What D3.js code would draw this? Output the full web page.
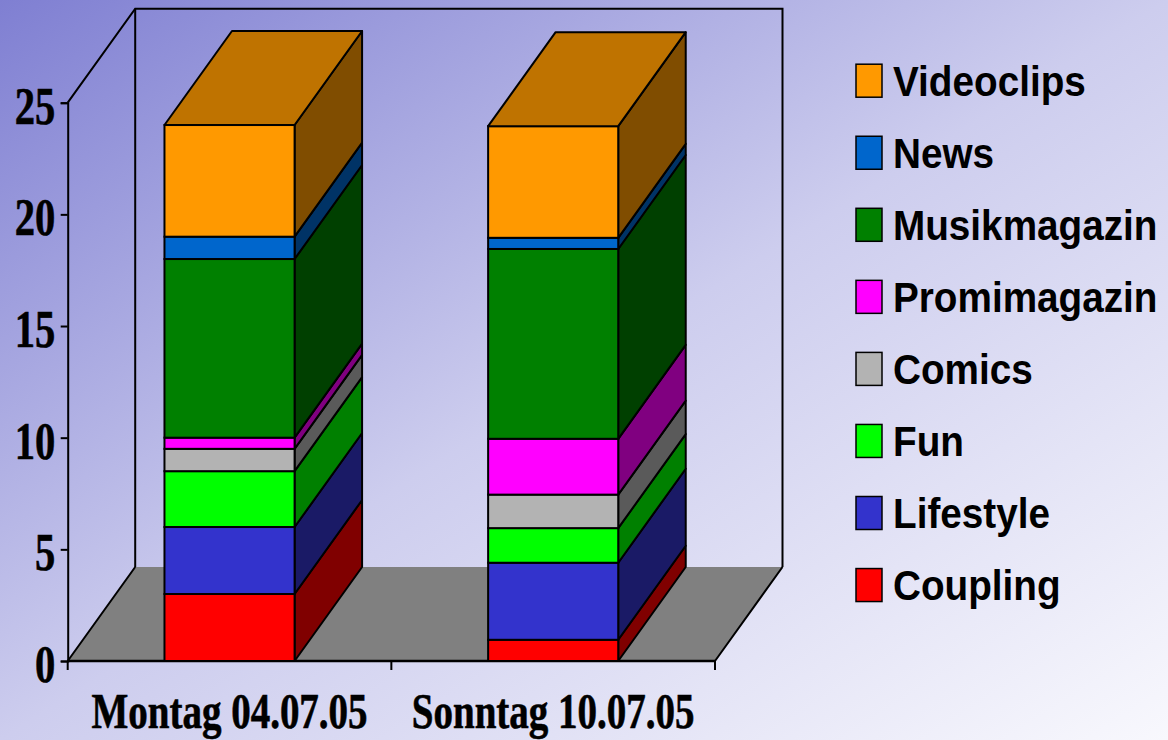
<!DOCTYPE html>
<html><head><meta charset="utf-8">
<script src="https://cdn.jsdelivr.net/npm/d3@7"></script>
<style>html,body{margin:0;padding:0;overflow:hidden}svg{display:block}</style>
</head><body>
<svg id="chart" width="1168" height="740"></svg>
<script>
// ---- data ----
const categories = ["Montag 04.07.05", "Sonntag 10.07.05"];
const seriesNames = ["Coupling", "Lifestyle", "Fun", "Comics", "Promimagazin", "Musikmagazin", "News", "Videoclips"];
const coupling     = [3.0, 0.95];
const lifestyle    = [3.0, 3.45];
const fun          = [2.5, 1.55];
const comics       = [1.0, 1.5];
const promimagazin = [0.5, 2.5];
const musikmagazin = [8.0, 8.5];
const news         = [1.0, 0.5];
const videoclips   = [5.0, 5.0];
const yTicks = [0, 5, 10, 15, 20, 25];
const frontColors = ["#FF0000", "#3333CC", "#00FF00", "#B3B3B3", "#FF00FF", "#008000", "#0066CC", "#FF9900"];
const sideColors  = ["#800000", "#1A1A66", "#008000", "#5A5A5A", "#800080", "#004000", "#003366", "#804D00"];
const topColors   = ["#BF0000", "#262699", "#00BF00", "#868686", "#BF00BF", "#006000", "#004C99", "#BF7300"];

const seriesValues = [coupling, lifestyle, fun, comics, promimagazin, musikmagazin, news, videoclips];

const svg = d3.select("#chart");
const W = 1168, H = 740;

// background gradient
const defs = svg.append("defs");
const grad = defs.append("linearGradient").attr("id", "bg")
  .attr("x1", 0).attr("y1", 0).attr("x2", 1).attr("y2", 1);
grad.append("stop").attr("offset", 0).attr("stop-color", "#7f7fd2");
grad.append("stop").attr("offset", 0.5).attr("stop-color", "#cdcdee");
grad.append("stop").attr("offset", 1).attr("stop-color", "#f8f8fd");
svg.append("rect").attr("width", W).attr("height", H).attr("fill", "url(#bg)");

// geometry
const x0 = 67.7, x1 = 715;
const dx = 67.5, dy = -94;
const y = d3.scaleLinear().domain([0, 25]).range([661, 102.7]);
const x = d3.scaleBand().domain(categories).range([x0, x1]).paddingInner(0.598).paddingOuter(0.299);
const SW = 2;

const g = svg.append("g");

// floor
g.append("path")
  .attr("d", `M${x0},${y(0)} L${x0 + dx},${y(0) + dy} L${x1 + dx},${y(0) + dy} L${x1},${y(0)} Z`)
  .attr("fill", "#808080").attr("stroke", "none");
g.append("path")
  .attr("d", `M${x0},${y(0)} L${x0 + dx},${y(0) + dy} M${x1},${y(0)} L${x1 + dx},${y(0) + dy}`)
  .attr("stroke", "#000").attr("stroke-width", SW).attr("fill", "none");

// walls (outline)
g.append("path")
  .attr("d", `M${x0},${y(25)} L${x0 + dx},${y(25) + dy} L${x1 + dx},${y(25) + dy} L${x1 + dx},${y(0) + dy}`)
  .attr("stroke", "#000").attr("stroke-width", SW).attr("fill", "none");
g.append("line")
  .attr("x1", x0 + dx).attr("y1", y(25) + dy).attr("x2", x0 + dx).attr("y2", y(0) + dy)
  .attr("stroke", "#000").attr("stroke-width", SW);

// y axis
const yAxis = d3.axisLeft(y).tickValues(yTicks).tickSize(7).tickPadding(0).tickFormat(d3.format("d"));
const ya = g.append("g").attr("transform", `translate(${x0},0)`).call(yAxis);
ya.select(".domain").attr("stroke", "#000").attr("stroke-width", 2);
ya.selectAll(".tick line").attr("stroke", "#000").attr("stroke-width", SW);
ya.selectAll(".tick text")
  .attr("x", null).attr("dy", null)
  .attr("transform", "translate(-12.5,20.5) scale(0.78,1)")
  .attr("text-anchor", "end")
  .attr("fill", "#000")
  .attr("stroke", "#000").attr("stroke-width", 0.6)
  .style("font-family", "'Liberation Serif','Times New Roman',serif")
  .style("font-weight", "bold")
  .style("font-size", "52px");

// x axis baseline + ticks at band boundaries
g.append("line").attr("x1", x0).attr("x2", x1).attr("y1", y(0)).attr("y2", y(0))
  .attr("stroke", "#000").attr("stroke-width", 2.5);
const boundaries = d3.range(categories.length + 1).map(i => x0 + i * x.step());
g.selectAll(".xtick").data(boundaries).enter().append("line")
  .attr("x1", d => d).attr("x2", d => d).attr("y1", y(0)).attr("y2", y(0) + 9)
  .attr("stroke", "#000").attr("stroke-width", SW);

// bars
categories.forEach((cat, ci) => {
  const bx0 = x(cat), bx1 = x(cat) + x.bandwidth();
  let cum = 0;
  const bg = g.append("g");
  seriesValues.forEach((vals, si) => {
    const v = vals[ci];
    const yb = y(cum), yt = y(cum + v);
    cum += v;
    bg.append("path")
      .attr("d", `M${bx1},${yb} L${bx1 + dx},${yb + dy} L${bx1 + dx},${yt + dy} L${bx1},${yt} Z`)
      .attr("fill", sideColors[si]).attr("stroke", "#000").attr("stroke-width", SW).attr("stroke-linejoin", "round");
    bg.append("rect")
      .attr("x", bx0).attr("y", yt).attr("width", bx1 - bx0).attr("height", yb - yt)
      .attr("fill", frontColors[si]).attr("stroke", "#000").attr("stroke-width", SW);
    if (si === seriesValues.length - 1) {
      bg.append("path")
        .attr("d", `M${bx0},${yt} L${bx0 + dx},${yt + dy} L${bx1 + dx},${yt + dy} L${bx1},${yt} Z`)
        .attr("fill", topColors[si]).attr("stroke", "#000").attr("stroke-width", SW).attr("stroke-linejoin", "round");
    }
  });
});

// category labels
g.selectAll(".xlabel").data(categories).enter().append("text")
  .attr("transform", d => `translate(${x(d) + x.bandwidth() / 2},728) scale(0.78,1)`)
  .attr("text-anchor", "middle")
  .attr("fill", "#000")
  .attr("stroke", "#000").attr("stroke-width", 0.6)
  .style("font-family", "'Liberation Serif','Times New Roman',serif")
  .style("font-weight", "bold")
  .style("font-size", "50px")
  .text(d => d);

// legend
const legendOrder = d3.range(seriesNames.length).reverse();
const lg = svg.append("g");
legendOrder.forEach((si, i) => {
  const cy = 80.7 + i * 72.05;
  lg.append("rect").attr("x", 856).attr("y", cy - 16.5).attr("width", 26).attr("height", 33)
    .attr("fill", frontColors[si]).attr("stroke", "#000").attr("stroke-width", 1.5);
  lg.append("text")
    .attr("transform", `translate(893,${cy + 15}) scale(0.9,1)`)
    .attr("fill", "#000")
    .style("font-family", "'Liberation Sans',Arial,sans-serif")
    .style("font-weight", "bold")
    .style("font-size", "43px")
    .text(seriesNames[si]);
});
</script>
</body></html>
